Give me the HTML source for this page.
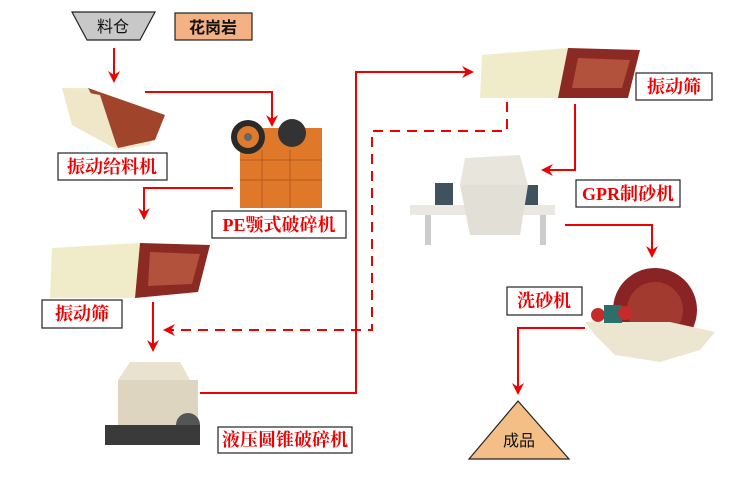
<!DOCTYPE html>
<html><head><meta charset="utf-8"><style>
html,body{margin:0;padding:0;background:#fff;}
svg{display:block}
.lb{font-family:"Liberation Serif","Noto Serif CJK SC",serif;font-weight:bold;fill:#e00;font-size:18px;}
.lk{font-family:"Liberation Sans","Noto Sans CJK SC",sans-serif;fill:#111;font-size:16px;}
</style></head><body>
<svg width="750" height="500" viewBox="0 0 750 500" xmlns="http://www.w3.org/2000/svg">
<defs>
<marker id="a" markerWidth="12" markerHeight="12" refX="10" refY="6" orient="auto" markerUnits="userSpaceOnUse" viewBox="0 0 12 12"><path d="M0,0 L12,6 L0,12 L4,6Z" fill="#e00"/></marker>
</defs>
<polygon points="72,12 155,12 140,40 87,40" fill="#c8c8c8" stroke="#222" stroke-width="1.2"/>
<text x="113" y="32" class="lk" text-anchor="middle" font-size="17">料仓</text>
<rect x="175" y="13" width="77" height="27" fill="#f4b183" stroke="#222" stroke-width="1.2"/>
<text x="213" y="33" class="lk" text-anchor="middle" font-weight="bold" font-size="17">花岗岩</text>

<g stroke="#e00" stroke-width="2" fill="none">
<path d="M114,48 V81" marker-end="url(#a)"/>
<path d="M145,92 H272 V125" marker-end="url(#a)"/>
<path d="M233,188 H144 V218" marker-end="url(#a)"/>
<path d="M153,302 V350" marker-end="url(#a)"/>
<path d="M200,393 H356 V72 H472" marker-end="url(#a)"/>
<path d="M507,102 V131 H372 V330 H165" stroke-dasharray="10,7" marker-end="url(#a)"/>
<path d="M575,104 V170 H543" marker-end="url(#a)"/>
<path d="M565,225 H652 V256" marker-end="url(#a)"/>
<path d="M585,328 H518 V393" marker-end="url(#a)"/>
</g>

<!-- feeder -->
<polygon points="62,88 88,88 165,115 150,145 118,150 72,125" fill="#f1ead0"/>
<polygon points="88,88 165,115 155,140 118,148 100,110" fill="#a0452c"/>
<polygon points="62,88 100,95 118,150 72,125" fill="#efe7c8"/>
<rect x="58" y="153" width="109" height="27" fill="#fff" stroke="#222" stroke-width="1.2"/>
<text x="112" y="173" class="lb" text-anchor="middle">振动给料机</text>

<!-- jaw crusher -->
<rect x="240" y="128" width="82" height="80" fill="#e0782a"/>
<circle cx="292" cy="133" r="14" fill="#333"/>
<circle cx="248" cy="137" r="17" fill="#2a2a2a"/>
<circle cx="248" cy="137" r="11" fill="#e07a2c"/>
<circle cx="248" cy="137" r="4" fill="#666"/>
<g stroke="#b85a1c" stroke-width="1"><path d="M240,160 H322 M240,180 H322 M262,150 V208 M290,150 V208"/></g>
<rect x="212" y="211" width="134" height="27" fill="#fff" stroke="#222" stroke-width="1.2"/>
<text x="279" y="231" class="lb" text-anchor="middle">PE颚式破碎机</text>

<!-- screen 2 -->
<polygon points="52,248 140,243 135,298 50,298" fill="#f0ebc8"/>
<polygon points="140,243 210,245 198,292 135,298" fill="#8a2a22"/>
<polygon points="150,252 200,254 192,284 148,286" fill="#b2513c"/>
<rect x="42" y="300" width="80" height="28" fill="#fff" stroke="#222" stroke-width="1.2"/>
<text x="82" y="320" class="lb" text-anchor="middle">振动筛</text>

<!-- cone crusher -->
<polygon points="130,362 180,362 190,380 118,380" fill="#e9e2cf"/>
<rect x="118" y="380" width="80" height="45" fill="#ddd5bf"/>
<circle cx="188" cy="425" r="12" fill="#555"/>
<rect x="105" y="425" width="95" height="20" fill="#3a3a3a"/>
<rect x="218" y="427" width="134" height="26" fill="#fff" stroke="#222" stroke-width="1.2"/>
<text x="285" y="446" class="lb" text-anchor="middle">液压圆锥破碎机</text>

<!-- screen top -->
<polygon points="482,55 568,48 558,98 480,98" fill="#f0ebc8"/>
<polygon points="568,48 640,50 628,98 558,98" fill="#8a2a22"/>
<polygon points="578,58 630,60 622,88 572,88" fill="#b2513c"/>
<rect x="636" y="73" width="76" height="27" fill="#fff" stroke="#222" stroke-width="1.2"/>
<text x="674" y="93" class="lb" text-anchor="middle">振动筛</text>

<!-- VSI -->
<polygon points="465,158 520,155 528,185 460,185" fill="#e8e6dc"/>
<rect x="435" y="183" width="18" height="30" fill="#40525e"/>
<rect x="522" y="185" width="16" height="28" fill="#40525e"/>
<rect x="410" y="205" width="145" height="10" fill="#eae8e0"/>
<polygon points="460,185 528,185 520,235 470,235" fill="#e2e0d6"/>
<rect x="425" y="215" width="6" height="30" fill="#ccc"/><rect x="540" y="215" width="6" height="30" fill="#ccc"/>
<rect x="576" y="180" width="104" height="27" fill="#fff" stroke="#222" stroke-width="1.2"/>
<text x="628" y="200" class="lb" text-anchor="middle">GPR制砂机</text>

<!-- sand washer -->
<circle cx="655" cy="310" r="42" fill="#8a2424"/>
<circle cx="655" cy="310" r="28" fill="#a33a30"/>
<polygon points="585,322 670,322 715,332 700,350 660,362 615,355 595,335" fill="#ece5d0"/>
<circle cx="598" cy="315" r="7" fill="#c62b2b"/>
<rect x="604" y="305" width="18" height="18" fill="#2b6e6a"/>
<circle cx="625" cy="313" r="7" fill="#c62b2b"/>
<rect x="507" y="287" width="75" height="28" fill="#fff" stroke="#222" stroke-width="1.2"/>
<text x="544" y="307" class="lb" text-anchor="middle">洗砂机</text>

<!-- product -->
<polygon points="518,401 569,459 469,459" fill="#f4bf86" stroke="#222" stroke-width="1.2"/>
<text x="519" y="446" class="lk" text-anchor="middle" font-size="17">成品</text>
</svg>
</body></html>
